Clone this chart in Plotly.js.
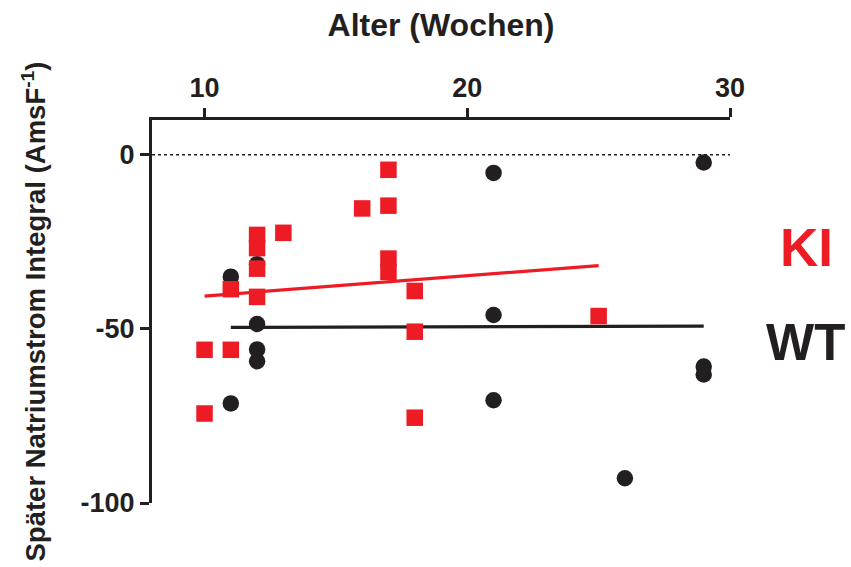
<!DOCTYPE html>
<html>
<head>
<meta charset="utf-8">
<script src="https://cdn.plot.ly/plotly-3.0.1.min.js"></script>
<style>
  html, body { margin: 0; padding: 0; background: #fff; }
  #chart { width: 851px; height: 567px; }
</style>
</head>
<body>
<div id="chart"></div>
<script>
// Age (weeks) and late sodium current integral for each animal
const kiAge = [10, 10, 11, 11, 12, 12, 12, 12, 13, 16, 17, 17, 17, 17, 18, 18, 18, 25];
const kiVal = [-56, -74.3, -56, -38.6, -23, -26.8, -32.7, -40.8, -22.4, -15.4, -4.3, -14.6, -29.8, -33.6, -39.1, -50.8, -75.5, -46.3];

const wtAge = [11, 11, 12, 12, 12, 12, 21, 21, 21, 26, 29, 29, 29];
const wtVal = [-35, -71.4, -31.4, -48.6, -55.9, -59.3, -5.2, -46, -70.5, -92.9, -2.2, -60.8, -63.1];

const groupNames = ['KI', 'WT'];
const xTicks = [10, 20, 30];
const yTicks = [0, -50, -100];

const RED = '#ED1C24';
const BLACK = '#231F20';
const FONT = 'Liberation Sans, Arial, sans-serif';

// Least-squares fit over the span of the observed ages
function fitLine(xs, ys) {
  const n = xs.length;
  const mx = xs.reduce((a, b) => a + b, 0) / n;
  const my = ys.reduce((a, b) => a + b, 0) / n;
  let sxy = 0, sxx = 0;
  for (let i = 0; i < n; i++) {
    sxy += (xs[i] - mx) * (ys[i] - my);
    sxx += (xs[i] - mx) ** 2;
  }
  const slope = sxy / sxx;
  const icpt = my - slope * mx;
  const x0 = Math.min(...xs), x1 = Math.max(...xs);
  return { x: [x0, x1], y: [icpt + slope * x0, icpt + slope * x1] };
}

const kiFit = fitLine(kiAge, kiVal);
const wtFit = fitLine(wtAge, wtVal);

const traces = [
  { x: wtFit.x, y: wtFit.y, mode: 'lines', line: { color: BLACK, width: 3.2 }, hoverinfo: 'skip' },
  { x: wtAge, y: wtVal, mode: 'markers', name: groupNames[1],
    marker: { symbol: 'circle', size: 16.5, color: BLACK } },
  { x: kiFit.x, y: kiFit.y, mode: 'lines', line: { color: RED, width: 3.2 }, hoverinfo: 'skip' },
  { x: kiAge, y: kiVal, mode: 'markers', name: groupNames[0],
    marker: { symbol: 'square', size: 16.5, color: RED } }
];

const layout = {
  width: 851, height: 567,
  margin: { l: 152, r: 121, t: 120, b: 64 },
  paper_bgcolor: '#fff', plot_bgcolor: '#fff',
  showlegend: false,
  font: { family: FONT, color: BLACK },
  xaxis: {
    side: 'top', range: [8, 30],
    tickvals: xTicks, ticktext: xTicks.map(String),
    ticks: 'outside', ticklen: 9, tickwidth: 3, tickcolor: BLACK,
    showline: true, linewidth: 3, linecolor: BLACK,
    showgrid: false, zeroline: false,
    tickfont: { family: FONT, size: 27, color: BLACK, weight: 'bold' },
    title: { text: '<b>Alter (Wochen)</b>', font: { family: FONT, size: 32, color: BLACK }, standoff: 28 },
    automargin: false
  },
  yaxis: {
    range: [-100, 10],
    tickvals: yTicks, ticktext: yTicks.map(String),
    ticks: 'outside', ticklen: 9, tickwidth: 3, tickcolor: BLACK,
    showline: true, linewidth: 3, linecolor: BLACK,
    showgrid: false, zeroline: false,
    tickfont: { family: FONT, size: 27, color: BLACK, weight: 'bold' },
    title: { text: '<b>Später Natriumstrom Integral (AmsF<sup>-1</sup>)</b>', font: { family: FONT, size: 27.5, color: BLACK }, standoff: 27 },
    automargin: false
  },
  shapes: [
    { type: 'line', xref: 'paper', x0: 0, x1: 1, yref: 'y', y0: 0, y1: 0,
      line: { color: BLACK, width: 1.5, dash: 'dot' }, layer: 'below' }
  ],
  annotations: [
    { text: '<b>' + groupNames[0] + '</b>', xref: 'paper', yref: 'paper', x: 1.133, y: 0.666,
      xanchor: 'center', yanchor: 'middle', showarrow: false,
      font: { family: FONT, size: 53, color: RED } },
    { text: '<b>' + groupNames[1] + '</b>', xref: 'paper', yref: 'paper', x: 1.131, y: 0.418,
      xanchor: 'center', yanchor: 'middle', showarrow: false,
      font: { family: FONT, size: 51, color: BLACK } }
  ]
};

Plotly.newPlot('chart', traces, layout, { staticPlot: true, displayModeBar: false });
</script>
</body>
</html>
